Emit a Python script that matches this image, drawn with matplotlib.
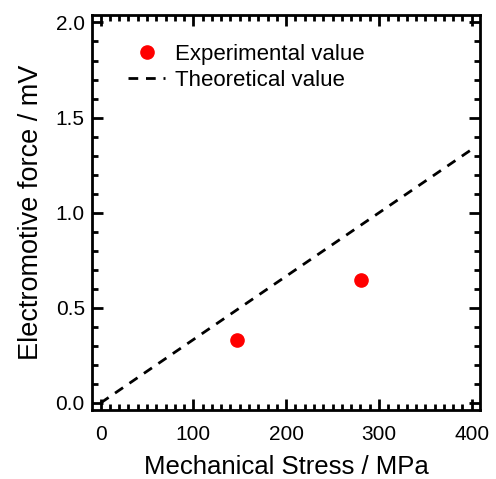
import matplotlib
matplotlib.use("Agg")
import matplotlib.pyplot as plt
from matplotlib.ticker import MultipleLocator
import numpy as np

plt.rcParams['font.family'] = ['Liberation Sans', 'DejaVu Sans']

exp_x = [147, 281]
exp_y = [0.33, 0.645]
theo_x = [0, 400]
theo_y = [0.0, 1.333]

fig = plt.figure(figsize=(4.96, 4.79), dpi=100)
ax = fig.add_axes([0.185, 0.144, 0.783, 0.825])

ax.plot(exp_x, exp_y, 'o', color='#ff0000', markersize=9.5, label='Experimental value', zorder=3)
ax.plot(theo_x, theo_y, '--', color='black', lw=2, dashes=(3.5, 2.8), label='Theoretical value')

ax.set_xlim(-9.5, 409)
ax.set_ylim(-0.037, 2.04)
ax.xaxis.set_major_locator(MultipleLocator(100))
ax.xaxis.set_minor_locator(MultipleLocator(10))
ax.yaxis.set_major_locator(MultipleLocator(0.5))
ax.yaxis.set_minor_locator(MultipleLocator(0.1))
ax.yaxis.set_major_formatter(matplotlib.ticker.FormatStrFormatter('%.1f'))

for s in ax.spines.values():
    s.set_linewidth(2)
ax.tick_params(which='both', direction='in', top=True, right=True, width=2, labelsize=15)
ax.tick_params(which='major', length=8)
ax.tick_params(which='minor', length=4)
ax.tick_params(axis='x', which='major', pad=11)
ax.tick_params(axis='y', which='major', pad=5)

ax.set_xlabel('Mechanical Stress / MPa', fontsize=18.5, labelpad=8)
ax.set_ylabel('Electromotive force / mV', fontsize=19.5, labelpad=8)

ax.legend(loc='upper left', bbox_to_anchor=(0.041, 0.978), frameon=False, fontsize=16,
          handlelength=1.7, handletextpad=0.45, labelspacing=0.25)

fig.savefig('out.png', dpi=100)
